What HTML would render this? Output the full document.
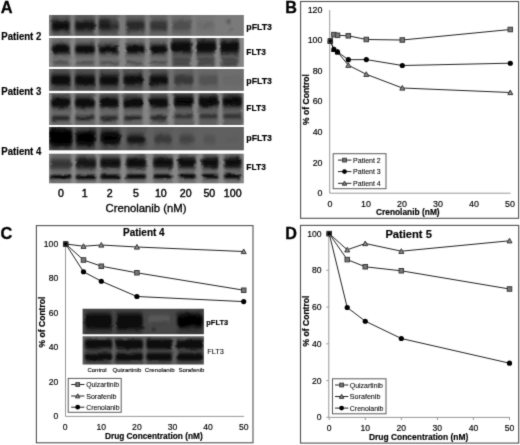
<!DOCTYPE html>
<html lang="en"><head><meta charset="utf-8"><title>Figure</title>
<style>
html,body{margin:0;padding:0;background:#fff;}
body{width:520px;height:445px;overflow:hidden;}
svg{display:block;font-family:"Liberation Sans",sans-serif;}
</style></head><body>
<svg width="520" height="445" viewBox="0 0 520 445">
<defs>
<filter id="a0" x="-30%" y="-60%" width="160%" height="220%"><feGaussianBlur stdDeviation="0.8 0.8"/></filter>
<filter id="a1" x="-30%" y="-60%" width="160%" height="220%"><feGaussianBlur stdDeviation="1.0 1.4"/></filter>
<filter id="a2" x="-30%" y="-60%" width="160%" height="220%"><feGaussianBlur stdDeviation="1.2 2.2"/></filter>
<filter id="wob" x="0" y="0" width="100%" height="100%" filterUnits="objectBoundingBox"><feTurbulence type="fractalNoise" baseFrequency="0.09 0.12" numOctaves="2" seed="7" result="n"/><feDisplacementMap in="SourceGraphic" in2="n" scale="3.2" xChannelSelector="R" yChannelSelector="G"/></filter>
<filter id="soft" x="0" y="0" width="520" height="445" filterUnits="userSpaceOnUse" color-interpolation-filters="sRGB"><feConvolveMatrix order="3" kernelMatrix="1 6 1 6 36 6 1 6 1" divisor="64" edgeMode="duplicate" preserveAlpha="false"/></filter>
<filter id="b1" x="-30%" y="-60%" width="160%" height="220%"><feGaussianBlur stdDeviation="0.9"/></filter>
<filter id="b15" x="-30%" y="-60%" width="160%" height="220%"><feGaussianBlur stdDeviation="1.4"/></filter>
<filter id="b2" x="-30%" y="-60%" width="160%" height="220%"><feGaussianBlur stdDeviation="1.9"/></filter>
<filter id="b25" x="-30%" y="-60%" width="160%" height="220%"><feGaussianBlur stdDeviation="2.4"/></filter>
</defs>
<rect width="520" height="445" fill="#fff"/>
<g filter="url(#soft)">

<g id="panelA">
<clipPath id="cs0"><rect x="49.0" y="15.0" width="194.7" height="20.8"/></clipPath>
<clipPath id="cs1"><rect x="49.0" y="38.1" width="194.7" height="28.7"/></clipPath>
<clipPath id="cs2"><rect x="49.0" y="69.0" width="194.7" height="21.7"/></clipPath>
<clipPath id="cs3"><rect x="49.0" y="93.3" width="194.7" height="31.7"/></clipPath>
<clipPath id="cs4"><rect x="49.0" y="126.9" width="194.7" height="23.4"/></clipPath>
<clipPath id="cs5"><rect x="49.0" y="153.7" width="194.7" height="29.6"/></clipPath>
<g clip-path="url(#cs0)">
<rect x="49.0" y="15.0" width="194.7" height="20.8" fill="#7a7a7a"/>
<g filter="url(#wob)">
<rect x="43.0" y="9.0" width="206.7" height="32.8" fill="#7a7a7a"/>
<rect x="51.8" y="11.0" width="18.0" height="28.8" fill="#000" fill-opacity="0.22" filter="url(#a0)"/>
<rect x="75.0" y="11.0" width="20.0" height="28.8" fill="#000" fill-opacity="0.22" filter="url(#a0)"/>
<rect x="98.8" y="11.0" width="20.0" height="28.8" fill="#000" fill-opacity="0.20" filter="url(#a0)"/>
<rect x="126.0" y="11.0" width="18.8" height="28.8" fill="#000" fill-opacity="0.18" filter="url(#a0)"/>
<rect x="150.0" y="11.0" width="17.5" height="28.8" fill="#000" fill-opacity="0.15" filter="url(#a0)"/>
<rect x="172.0" y="11.0" width="19.2" height="28.8" fill="#000" fill-opacity="0.10" filter="url(#a0)"/>
<rect x="196.5" y="11.0" width="18.5" height="28.8" fill="#000" fill-opacity="0.03" filter="url(#a0)"/>
<rect x="51.8" y="18.8" width="18.0" height="14.0" rx="2.5" fill="#000" fill-opacity="0.45" filter="url(#a2)"/>
<rect x="52.3" y="21.6" width="17.0" height="8.5" rx="2.5" fill="#000" fill-opacity="0.72" filter="url(#a1)"/>
<rect x="75.0" y="18.8" width="20.0" height="14.0" rx="2.5" fill="#000" fill-opacity="0.39" filter="url(#a2)"/>
<rect x="75.5" y="21.6" width="19.0" height="8.5" rx="2.5" fill="#000" fill-opacity="0.62" filter="url(#a1)"/>
<rect x="98.8" y="18.8" width="20.0" height="14.0" rx="2.5" fill="#000" fill-opacity="0.33" filter="url(#a2)"/>
<rect x="98.8" y="20.8" width="11.0" height="9.0" rx="2.5" fill="#000" fill-opacity="0.53" filter="url(#a1)"/>
<rect x="107.8" y="24.3" width="11.0" height="4.0" rx="2.5" fill="#000" fill-opacity="0.35" filter="url(#a1)"/>
<rect x="126.0" y="18.8" width="18.8" height="14.0" rx="2.5" fill="#000" fill-opacity="0.27" filter="url(#a2)"/>
<rect x="126.5" y="21.6" width="17.8" height="8.5" rx="2.5" fill="#000" fill-opacity="0.43" filter="url(#a1)"/>
<rect x="150.0" y="18.8" width="17.5" height="14.0" rx="2.5" fill="#000" fill-opacity="0.21" filter="url(#a2)"/>
<rect x="150.5" y="21.6" width="16.5" height="8.5" rx="2.5" fill="#000" fill-opacity="0.34" filter="url(#a1)"/>
<rect x="172.0" y="18.8" width="19.2" height="14.0" rx="2.5" fill="#000" fill-opacity="0.12" filter="url(#a2)"/>
<rect x="172.5" y="21.6" width="18.2" height="8.5" rx="2.5" fill="#000" fill-opacity="0.19" filter="url(#a1)"/>
<rect x="196.5" y="18.8" width="18.5" height="14.0" rx="2.5" fill="#000" fill-opacity="0.03" filter="url(#a2)"/>
<rect x="197.0" y="21.6" width="17.5" height="8.5" rx="2.5" fill="#000" fill-opacity="0.04" filter="url(#a1)"/>
<circle cx="228.5" cy="22" r="2.2" fill="#000" fill-opacity="0.3" filter="url(#a1)"/>
<circle cx="230.5" cy="29.5" r="1.3" fill="#000" fill-opacity="0.25" filter="url(#a0)"/>
<path d="M203,29 l9,-7" stroke="#000" stroke-opacity="0.25" stroke-width="1" filter="url(#a0)"/>
</g></g>
<g clip-path="url(#cs1)">
<rect x="49.0" y="38.1" width="194.7" height="28.7" fill="#868686"/>
<g filter="url(#wob)">
<rect x="43.0" y="32.1" width="206.7" height="40.7" fill="#868686"/>
<rect x="51.8" y="34.1" width="18.0" height="36.7" fill="#000" fill-opacity="0.16" filter="url(#a0)"/>
<rect x="75.0" y="34.1" width="20.0" height="36.7" fill="#000" fill-opacity="0.16" filter="url(#a0)"/>
<rect x="98.8" y="34.1" width="20.0" height="36.7" fill="#000" fill-opacity="0.16" filter="url(#a0)"/>
<rect x="126.0" y="34.1" width="18.8" height="36.7" fill="#000" fill-opacity="0.16" filter="url(#a0)"/>
<rect x="150.0" y="34.1" width="17.5" height="36.7" fill="#000" fill-opacity="0.18" filter="url(#a0)"/>
<rect x="172.0" y="34.1" width="19.2" height="36.7" fill="#000" fill-opacity="0.32" filter="url(#a0)"/>
<rect x="196.5" y="34.1" width="18.5" height="36.7" fill="#000" fill-opacity="0.32" filter="url(#a0)"/>
<rect x="220.4" y="34.1" width="18.6" height="36.7" fill="#000" fill-opacity="0.32" filter="url(#a0)"/>
<rect x="51.8" y="43.0" width="18.0" height="12.0" rx="2.5" fill="#000" fill-opacity="0.42" filter="url(#a2)"/>
<rect x="52.3" y="45.8" width="17.0" height="7.0" rx="2.5" fill="#000" fill-opacity="0.85" filter="url(#a1)"/>
<rect x="52.8" y="61.2" width="16.0" height="3.0" rx="2.5" fill="#000" fill-opacity="0.30" filter="url(#a0)"/>
<rect x="75.0" y="43.0" width="20.0" height="12.0" rx="2.5" fill="#000" fill-opacity="0.42" filter="url(#a2)"/>
<rect x="75.5" y="45.8" width="19.0" height="7.0" rx="2.5" fill="#000" fill-opacity="0.85" filter="url(#a1)"/>
<rect x="76.0" y="61.2" width="18.0" height="3.0" rx="2.5" fill="#000" fill-opacity="0.30" filter="url(#a0)"/>
<rect x="98.8" y="43.0" width="20.0" height="12.0" rx="2.5" fill="#000" fill-opacity="0.42" filter="url(#a2)"/>
<rect x="99.3" y="45.8" width="19.0" height="7.0" rx="2.5" fill="#000" fill-opacity="0.85" filter="url(#a1)"/>
<rect x="99.8" y="61.2" width="18.0" height="3.0" rx="2.5" fill="#000" fill-opacity="0.30" filter="url(#a0)"/>
<rect x="126.0" y="43.0" width="18.8" height="12.0" rx="2.5" fill="#000" fill-opacity="0.42" filter="url(#a2)"/>
<rect x="126.5" y="45.8" width="17.8" height="7.0" rx="2.5" fill="#000" fill-opacity="0.85" filter="url(#a1)"/>
<rect x="127.0" y="61.2" width="16.8" height="3.0" rx="2.5" fill="#000" fill-opacity="0.30" filter="url(#a0)"/>
<rect x="150.0" y="43.0" width="17.5" height="12.0" rx="2.5" fill="#000" fill-opacity="0.42" filter="url(#a2)"/>
<rect x="150.5" y="45.8" width="16.5" height="7.0" rx="2.5" fill="#000" fill-opacity="0.85" filter="url(#a1)"/>
<rect x="151.0" y="61.2" width="15.5" height="3.0" rx="2.5" fill="#000" fill-opacity="0.30" filter="url(#a0)"/>
<rect x="172.0" y="39.0" width="19.2" height="15.0" rx="2.5" fill="#000" fill-opacity="0.45" filter="url(#a2)"/>
<rect x="172.5" y="42.2" width="18.2" height="9.5" rx="2.5" fill="#000" fill-opacity="0.80" filter="url(#a1)"/>
<rect x="173.0" y="58.5" width="17.2" height="2.5" rx="2.5" fill="#000" fill-opacity="0.30" filter="url(#a0)"/>
<rect x="173.0" y="62.2" width="17.2" height="2.5" rx="2.5" fill="#000" fill-opacity="0.30" filter="url(#a0)"/>
<rect x="196.5" y="39.0" width="18.5" height="15.0" rx="2.5" fill="#000" fill-opacity="0.45" filter="url(#a2)"/>
<rect x="197.0" y="42.2" width="17.5" height="9.5" rx="2.5" fill="#000" fill-opacity="0.80" filter="url(#a1)"/>
<rect x="197.5" y="58.5" width="16.5" height="2.5" rx="2.5" fill="#000" fill-opacity="0.30" filter="url(#a0)"/>
<rect x="197.5" y="62.2" width="16.5" height="2.5" rx="2.5" fill="#000" fill-opacity="0.30" filter="url(#a0)"/>
<rect x="220.4" y="39.0" width="18.6" height="15.0" rx="2.5" fill="#000" fill-opacity="0.45" filter="url(#a2)"/>
<rect x="220.9" y="42.2" width="17.6" height="9.5" rx="2.5" fill="#000" fill-opacity="0.80" filter="url(#a1)"/>
<rect x="221.4" y="58.5" width="16.6" height="2.5" rx="2.5" fill="#000" fill-opacity="0.30" filter="url(#a0)"/>
<rect x="221.4" y="62.2" width="16.6" height="2.5" rx="2.5" fill="#000" fill-opacity="0.30" filter="url(#a0)"/>
</g></g>
<g clip-path="url(#cs2)">
<rect x="49.0" y="69.0" width="194.7" height="21.7" fill="#6e6e6e"/>
<g filter="url(#wob)">
<rect x="43.0" y="63.0" width="206.7" height="33.7" fill="#6e6e6e"/>
<rect x="51.2" y="65.0" width="19.2" height="29.7" fill="#000" fill-opacity="0.24" filter="url(#a0)"/>
<rect x="75.0" y="65.0" width="20.0" height="29.7" fill="#000" fill-opacity="0.24" filter="url(#a0)"/>
<rect x="99.6" y="65.0" width="18.9" height="29.7" fill="#000" fill-opacity="0.24" filter="url(#a0)"/>
<rect x="123.5" y="65.0" width="19.2" height="29.7" fill="#000" fill-opacity="0.24" filter="url(#a0)"/>
<rect x="149.6" y="65.0" width="18.4" height="29.7" fill="#000" fill-opacity="0.24" filter="url(#a0)"/>
<rect x="174.0" y="65.0" width="19.5" height="29.7" fill="#000" fill-opacity="0.12" filter="url(#a0)"/>
<rect x="198.8" y="65.0" width="19.2" height="29.7" fill="#000" fill-opacity="0.06" filter="url(#a0)"/>
<rect x="51.2" y="73.5" width="19.2" height="13.0" rx="2.5" fill="#000" fill-opacity="0.51" filter="url(#a2)"/>
<rect x="51.7" y="76.2" width="18.2" height="8.0" rx="2.5" fill="#000" fill-opacity="0.78" filter="url(#a1)"/>
<rect x="75.0" y="73.5" width="20.0" height="13.0" rx="2.5" fill="#000" fill-opacity="0.48" filter="url(#a2)"/>
<rect x="75.5" y="76.2" width="19.0" height="8.0" rx="2.5" fill="#000" fill-opacity="0.75" filter="url(#a1)"/>
<rect x="99.6" y="73.5" width="18.9" height="13.0" rx="2.5" fill="#000" fill-opacity="0.47" filter="url(#a2)"/>
<rect x="100.1" y="76.2" width="17.9" height="8.0" rx="2.5" fill="#000" fill-opacity="0.72" filter="url(#a1)"/>
<rect x="123.5" y="73.5" width="19.2" height="13.0" rx="2.5" fill="#000" fill-opacity="0.45" filter="url(#a2)"/>
<rect x="124.0" y="76.2" width="18.2" height="8.0" rx="2.5" fill="#000" fill-opacity="0.70" filter="url(#a1)"/>
<rect x="149.6" y="73.5" width="18.4" height="13.0" rx="2.5" fill="#000" fill-opacity="0.45" filter="url(#a2)"/>
<rect x="150.1" y="76.2" width="17.4" height="8.0" rx="2.5" fill="#000" fill-opacity="0.70" filter="url(#a1)"/>
<rect x="174.0" y="73.5" width="19.5" height="13.0" rx="2.5" fill="#000" fill-opacity="0.19" filter="url(#a2)"/>
<rect x="174.5" y="76.2" width="18.5" height="8.0" rx="2.5" fill="#000" fill-opacity="0.29" filter="url(#a1)"/>
<rect x="198.8" y="73.5" width="19.2" height="13.0" rx="2.5" fill="#000" fill-opacity="0.09" filter="url(#a2)"/>
<rect x="199.3" y="76.2" width="18.2" height="8.0" rx="2.5" fill="#000" fill-opacity="0.14" filter="url(#a1)"/>
<rect x="222.7" y="73.5" width="19.3" height="13.0" rx="2.5" fill="#000" fill-opacity="0.02" filter="url(#a2)"/>
<rect x="223.2" y="76.2" width="18.3" height="8.0" rx="2.5" fill="#000" fill-opacity="0.03" filter="url(#a1)"/>
</g></g>
<g clip-path="url(#cs3)">
<rect x="49.0" y="93.3" width="194.7" height="31.7" fill="#848484"/>
<g filter="url(#wob)">
<rect x="43.0" y="87.3" width="206.7" height="43.7" fill="#848484"/>
<rect x="51.2" y="89.3" width="19.2" height="39.7" fill="#000" fill-opacity="0.22" filter="url(#a0)"/>
<rect x="75.0" y="89.3" width="20.0" height="39.7" fill="#000" fill-opacity="0.22" filter="url(#a0)"/>
<rect x="99.6" y="89.3" width="18.9" height="39.7" fill="#000" fill-opacity="0.22" filter="url(#a0)"/>
<rect x="123.5" y="89.3" width="19.2" height="39.7" fill="#000" fill-opacity="0.22" filter="url(#a0)"/>
<rect x="149.6" y="89.3" width="18.4" height="39.7" fill="#000" fill-opacity="0.22" filter="url(#a0)"/>
<rect x="174.0" y="89.3" width="19.5" height="39.7" fill="#000" fill-opacity="0.28" filter="url(#a0)"/>
<rect x="198.8" y="89.3" width="19.2" height="39.7" fill="#000" fill-opacity="0.28" filter="url(#a0)"/>
<rect x="222.7" y="89.3" width="19.3" height="39.7" fill="#000" fill-opacity="0.28" filter="url(#a0)"/>
<rect x="51.2" y="94.8" width="19.2" height="14.0" rx="2.5" fill="#000" fill-opacity="0.45" filter="url(#a2)"/>
<rect x="51.7" y="99.0" width="18.2" height="7.5" rx="2.5" fill="#000" fill-opacity="0.88" filter="url(#a1)"/>
<rect x="51.7" y="116.1" width="18.2" height="4.2" rx="2.5" fill="#000" fill-opacity="0.68" filter="url(#a1)"/>
<rect x="75.0" y="94.8" width="20.0" height="14.0" rx="2.5" fill="#000" fill-opacity="0.45" filter="url(#a2)"/>
<rect x="75.5" y="99.0" width="19.0" height="7.5" rx="2.5" fill="#000" fill-opacity="0.88" filter="url(#a1)"/>
<rect x="75.5" y="116.1" width="19.0" height="4.2" rx="2.5" fill="#000" fill-opacity="0.68" filter="url(#a1)"/>
<rect x="99.6" y="94.8" width="18.9" height="14.0" rx="2.5" fill="#000" fill-opacity="0.45" filter="url(#a2)"/>
<rect x="100.1" y="99.0" width="17.9" height="7.5" rx="2.5" fill="#000" fill-opacity="0.88" filter="url(#a1)"/>
<rect x="100.1" y="116.1" width="17.9" height="4.2" rx="2.5" fill="#000" fill-opacity="0.68" filter="url(#a1)"/>
<rect x="123.5" y="94.8" width="19.2" height="14.0" rx="2.5" fill="#000" fill-opacity="0.45" filter="url(#a2)"/>
<rect x="124.0" y="99.0" width="18.2" height="7.5" rx="2.5" fill="#000" fill-opacity="0.88" filter="url(#a1)"/>
<rect x="124.0" y="116.1" width="18.2" height="4.2" rx="2.5" fill="#000" fill-opacity="0.68" filter="url(#a1)"/>
<rect x="149.6" y="94.8" width="18.4" height="14.0" rx="2.5" fill="#000" fill-opacity="0.45" filter="url(#a2)"/>
<rect x="150.1" y="99.0" width="17.4" height="7.5" rx="2.5" fill="#000" fill-opacity="0.88" filter="url(#a1)"/>
<rect x="150.1" y="116.1" width="17.4" height="4.2" rx="2.5" fill="#000" fill-opacity="0.68" filter="url(#a1)"/>
<rect x="174.0" y="93.0" width="19.5" height="15.0" rx="2.5" fill="#000" fill-opacity="0.45" filter="url(#a2)"/>
<rect x="174.5" y="97.2" width="18.5" height="8.5" rx="2.5" fill="#000" fill-opacity="0.88" filter="url(#a1)"/>
<rect x="174.5" y="114.5" width="18.5" height="3.5" rx="2.5" fill="#000" fill-opacity="0.60" filter="url(#a1)"/>
<rect x="198.8" y="93.0" width="19.2" height="15.0" rx="2.5" fill="#000" fill-opacity="0.45" filter="url(#a2)"/>
<rect x="199.3" y="97.2" width="18.2" height="8.5" rx="2.5" fill="#000" fill-opacity="0.88" filter="url(#a1)"/>
<rect x="199.3" y="114.5" width="18.2" height="3.5" rx="2.5" fill="#000" fill-opacity="0.60" filter="url(#a1)"/>
<rect x="222.7" y="93.0" width="19.3" height="15.0" rx="2.5" fill="#000" fill-opacity="0.45" filter="url(#a2)"/>
<rect x="223.2" y="97.2" width="18.3" height="8.5" rx="2.5" fill="#000" fill-opacity="0.88" filter="url(#a1)"/>
<rect x="223.2" y="114.5" width="18.3" height="3.5" rx="2.5" fill="#000" fill-opacity="0.60" filter="url(#a1)"/>
</g></g>
<g clip-path="url(#cs4)">
<rect x="49.0" y="126.9" width="194.7" height="23.4" fill="#606060"/>
<g filter="url(#wob)">
<rect x="43.0" y="120.9" width="206.7" height="35.4" fill="#606060"/>
<rect x="50.5" y="122.9" width="20.5" height="31.4" fill="#000" fill-opacity="0.20" filter="url(#a0)"/>
<rect x="76.0" y="122.9" width="19.8" height="31.4" fill="#000" fill-opacity="0.18" filter="url(#a0)"/>
<rect x="100.6" y="122.9" width="19.6" height="31.4" fill="#000" fill-opacity="0.16" filter="url(#a0)"/>
<rect x="126.5" y="122.9" width="19.3" height="31.4" fill="#000" fill-opacity="0.10" filter="url(#a0)"/>
<rect x="153.5" y="122.9" width="19.2" height="31.4" fill="#000" fill-opacity="0.05" filter="url(#a0)"/>
<rect x="178.5" y="122.9" width="17.0" height="31.4" fill="#000" fill-opacity="0.03" filter="url(#a0)"/>
<rect x="49.0" y="127.6" width="23.5" height="20.0" rx="5" fill="#000" fill-opacity="0.75" filter="url(#a2)"/>
<rect x="50.0" y="130.6" width="21.5" height="14.0" rx="4" fill="#000" fill-opacity="0.90" filter="url(#a1)"/>
<rect x="75.7" y="129.2" width="20.4" height="17.5" rx="5" fill="#000" fill-opacity="0.68" filter="url(#a2)"/>
<rect x="76.7" y="132.2" width="18.4" height="11.5" rx="4" fill="#000" fill-opacity="0.81" filter="url(#a1)"/>
<rect x="100.4" y="130.0" width="20.0" height="16.0" rx="5" fill="#000" fill-opacity="0.65" filter="url(#a2)"/>
<rect x="101.4" y="133.0" width="18.0" height="10.0" rx="4" fill="#000" fill-opacity="0.77" filter="url(#a1)"/>
<rect x="126.5" y="133.8" width="19.3" height="11.5" rx="5" fill="#000" fill-opacity="0.49" filter="url(#a2)"/>
<rect x="127.5" y="136.8" width="17.3" height="5.5" rx="4" fill="#000" fill-opacity="0.59" filter="url(#a1)"/>
<rect x="154.0" y="134.8" width="18.2" height="9.0" rx="5" fill="#000" fill-opacity="0.38" filter="url(#a2)"/>
<rect x="179.0" y="134.8" width="16.0" height="9.0" rx="5" fill="#000" fill-opacity="0.29" filter="url(#a2)"/>
<rect x="203.0" y="135.3" width="14.0" height="8.0" rx="5" fill="#000" fill-opacity="0.15" filter="url(#a2)"/>
<rect x="225.2" y="135.8" width="15.0" height="7.0" rx="5" fill="#000" fill-opacity="0.04" filter="url(#a2)"/>
</g></g>
<g clip-path="url(#cs5)">
<rect x="49.0" y="153.7" width="194.7" height="29.6" fill="#888888"/>
<g filter="url(#wob)">
<rect x="43.0" y="147.7" width="206.7" height="41.6" fill="#888888"/>
<rect x="50.5" y="149.7" width="20.5" height="37.6" fill="#000" fill-opacity="0.18" filter="url(#a0)"/>
<rect x="76.0" y="149.7" width="19.8" height="37.6" fill="#000" fill-opacity="0.18" filter="url(#a0)"/>
<rect x="100.6" y="149.7" width="19.6" height="37.6" fill="#000" fill-opacity="0.18" filter="url(#a0)"/>
<rect x="126.5" y="149.7" width="19.3" height="37.6" fill="#000" fill-opacity="0.18" filter="url(#a0)"/>
<rect x="153.5" y="149.7" width="19.2" height="37.6" fill="#000" fill-opacity="0.18" filter="url(#a0)"/>
<rect x="178.5" y="149.7" width="17.0" height="37.6" fill="#000" fill-opacity="0.18" filter="url(#a0)"/>
<rect x="202.0" y="149.7" width="16.0" height="37.6" fill="#000" fill-opacity="0.18" filter="url(#a0)"/>
<rect x="224.2" y="149.7" width="17.0" height="37.6" fill="#000" fill-opacity="0.18" filter="url(#a0)"/>
<rect x="50.2" y="157.2" width="21.1" height="13.0" rx="2.5" fill="#000" fill-opacity="0.25" filter="url(#a2)"/>
<rect x="50.5" y="160.0" width="20.5" height="8.0" rx="2.5" fill="#000" fill-opacity="0.36" filter="url(#a1)"/>
<rect x="50.2" y="175.1" width="21.1" height="4.4" rx="2" fill="#000" fill-opacity="0.92" filter="url(#a0)"/>
<rect x="75.7" y="156.6" width="20.4" height="13.0" rx="2.5" fill="#000" fill-opacity="0.45" filter="url(#a2)"/>
<rect x="76.0" y="159.4" width="19.8" height="8.0" rx="2.5" fill="#000" fill-opacity="0.64" filter="url(#a1)"/>
<rect x="75.7" y="174.8" width="20.4" height="4.4" rx="2" fill="#000" fill-opacity="0.92" filter="url(#a0)"/>
<rect x="100.3" y="156.2" width="20.2" height="13.0" rx="2.5" fill="#000" fill-opacity="0.49" filter="url(#a2)"/>
<rect x="100.6" y="159.0" width="19.6" height="8.0" rx="2.5" fill="#000" fill-opacity="0.70" filter="url(#a1)"/>
<rect x="100.3" y="174.5" width="20.2" height="4.4" rx="2" fill="#000" fill-opacity="0.92" filter="url(#a0)"/>
<rect x="126.2" y="156.1" width="19.9" height="13.0" rx="2.5" fill="#000" fill-opacity="0.51" filter="url(#a2)"/>
<rect x="126.5" y="158.9" width="19.3" height="8.0" rx="2.5" fill="#000" fill-opacity="0.72" filter="url(#a1)"/>
<rect x="126.2" y="174.3" width="19.9" height="4.4" rx="2" fill="#000" fill-opacity="0.92" filter="url(#a0)"/>
<rect x="153.2" y="156.0" width="19.8" height="13.0" rx="2.5" fill="#000" fill-opacity="0.51" filter="url(#a2)"/>
<rect x="153.5" y="158.8" width="19.2" height="8.0" rx="2.5" fill="#000" fill-opacity="0.72" filter="url(#a1)"/>
<rect x="153.2" y="174.2" width="19.8" height="4.4" rx="2" fill="#000" fill-opacity="0.92" filter="url(#a0)"/>
<rect x="178.2" y="155.9" width="17.6" height="13.0" rx="2.5" fill="#000" fill-opacity="0.53" filter="url(#a2)"/>
<rect x="178.5" y="158.7" width="17.0" height="8.0" rx="2.5" fill="#000" fill-opacity="0.75" filter="url(#a1)"/>
<rect x="178.2" y="174.1" width="17.6" height="4.4" rx="2" fill="#000" fill-opacity="0.92" filter="url(#a0)"/>
<rect x="201.7" y="155.9" width="16.6" height="13.0" rx="2.5" fill="#000" fill-opacity="0.53" filter="url(#a2)"/>
<rect x="202.0" y="158.7" width="16.0" height="8.0" rx="2.5" fill="#000" fill-opacity="0.75" filter="url(#a1)"/>
<rect x="201.7" y="174.0" width="16.6" height="4.4" rx="2" fill="#000" fill-opacity="0.92" filter="url(#a0)"/>
<rect x="223.9" y="155.9" width="17.6" height="13.0" rx="2.5" fill="#000" fill-opacity="0.53" filter="url(#a2)"/>
<rect x="224.2" y="158.7" width="17.0" height="8.0" rx="2.5" fill="#000" fill-opacity="0.75" filter="url(#a1)"/>
<rect x="223.9" y="174.0" width="17.6" height="4.4" rx="2" fill="#000" fill-opacity="0.92" filter="url(#a0)"/>
</g></g>
<text x="0.8" y="13.3" font-size="16.4" font-weight="bold" text-anchor="start" fill="#000" stroke="#000" stroke-width="0.3">A</text>
<text x="1.3" y="40.4" font-size="10.3" font-weight="bold" text-anchor="start" fill="#000" textLength="40" lengthAdjust="spacingAndGlyphs" stroke="#000" stroke-width="0.16">Patient 2</text>
<text x="1.3" y="95.3" font-size="10.3" font-weight="bold" text-anchor="start" fill="#000" textLength="40" lengthAdjust="spacingAndGlyphs" stroke="#000" stroke-width="0.16">Patient 3</text>
<text x="1.3" y="155.3" font-size="10.3" font-weight="bold" text-anchor="start" fill="#000" textLength="40" lengthAdjust="spacingAndGlyphs" stroke="#000" stroke-width="0.16">Patient 4</text>
<text x="246.3" y="29.6" font-size="9.6" font-weight="bold" text-anchor="start" fill="#000" textLength="25.7" lengthAdjust="spacingAndGlyphs" stroke="#000" stroke-width="0.16">pFLT3</text>
<text x="246.3" y="55.2" font-size="9.6" font-weight="bold" text-anchor="start" fill="#000" textLength="19.6" lengthAdjust="spacingAndGlyphs" stroke="#000" stroke-width="0.16">FLT3</text>
<text x="246.3" y="83.7" font-size="9.6" font-weight="bold" text-anchor="start" fill="#000" textLength="25.7" lengthAdjust="spacingAndGlyphs" stroke="#000" stroke-width="0.16">pFLT3</text>
<text x="246.3" y="111.3" font-size="9.6" font-weight="bold" text-anchor="start" fill="#000" textLength="19.6" lengthAdjust="spacingAndGlyphs" stroke="#000" stroke-width="0.16">FLT3</text>
<text x="246.3" y="141.3" font-size="9.6" font-weight="bold" text-anchor="start" fill="#000" textLength="25.7" lengthAdjust="spacingAndGlyphs" stroke="#000" stroke-width="0.16">pFLT3</text>
<text x="246.3" y="169.6" font-size="9.6" font-weight="bold" text-anchor="start" fill="#000" textLength="19.6" lengthAdjust="spacingAndGlyphs" stroke="#000" stroke-width="0.16">FLT3</text>
<text x="61" y="197.4" font-size="10.6" font-weight="normal" text-anchor="middle" fill="#000" stroke="#000" stroke-width="0.4">0</text>
<text x="84.8" y="197.4" font-size="10.6" font-weight="normal" text-anchor="middle" fill="#000" stroke="#000" stroke-width="0.4">1</text>
<text x="109.6" y="197.4" font-size="10.6" font-weight="normal" text-anchor="middle" fill="#000" stroke="#000" stroke-width="0.4">2</text>
<text x="135.9" y="197.4" font-size="10.6" font-weight="normal" text-anchor="middle" fill="#000" stroke="#000" stroke-width="0.4">5</text>
<text x="160.8" y="197.4" font-size="10.6" font-weight="normal" text-anchor="middle" fill="#000" stroke="#000" stroke-width="0.4">10</text>
<text x="185.7" y="197.4" font-size="10.6" font-weight="normal" text-anchor="middle" fill="#000" stroke="#000" stroke-width="0.4">20</text>
<text x="209.3" y="197.4" font-size="10.6" font-weight="normal" text-anchor="middle" fill="#000" stroke="#000" stroke-width="0.4">50</text>
<text x="232.7" y="197.4" font-size="10.6" font-weight="normal" text-anchor="middle" fill="#000" stroke="#000" stroke-width="0.4">100</text>
<text x="146" y="211.6" font-size="11.3" font-weight="normal" text-anchor="middle" fill="#000" stroke="#000" stroke-width="0.32">Crenolanib (nM)</text>
</g>
<g id="panelB">
<rect x="300.6" y="1.5" width="218.0" height="216.8" fill="#fff" stroke="#505050" stroke-width="1.1"/>
<text x="285.3" y="12.8" font-size="16.2" font-weight="bold" text-anchor="start" fill="#000" stroke="#000" stroke-width="0.3">B</text>
<path d="M329.7,10 V193.2 H510.5" fill="none" stroke="#989898" stroke-width="1"/>
<text x="322.5" y="196.2" font-size="8.9" font-weight="normal" text-anchor="end" fill="#000" stroke="#000" stroke-width="0.16">0</text>
<text x="322.5" y="165.6" font-size="8.9" font-weight="normal" text-anchor="end" fill="#000" stroke="#000" stroke-width="0.16">20</text>
<text x="322.5" y="135.0" font-size="8.9" font-weight="normal" text-anchor="end" fill="#000" stroke="#000" stroke-width="0.16">40</text>
<text x="322.5" y="104.4" font-size="8.9" font-weight="normal" text-anchor="end" fill="#000" stroke="#000" stroke-width="0.16">60</text>
<text x="322.5" y="73.8" font-size="8.9" font-weight="normal" text-anchor="end" fill="#000" stroke="#000" stroke-width="0.16">80</text>
<text x="322.5" y="43.2" font-size="8.9" font-weight="normal" text-anchor="end" fill="#000" stroke="#000" stroke-width="0.16">100</text>
<text x="322.5" y="12.600000000000005" font-size="8.9" font-weight="normal" text-anchor="end" fill="#000" stroke="#000" stroke-width="0.16">120</text>
<text x="330.0" y="206.7" font-size="8.9" font-weight="normal" text-anchor="middle" fill="#000" stroke="#000" stroke-width="0.16">0</text>
<text x="366.0" y="206.7" font-size="8.9" font-weight="normal" text-anchor="middle" fill="#000" stroke="#000" stroke-width="0.16">10</text>
<text x="402.0" y="206.7" font-size="8.9" font-weight="normal" text-anchor="middle" fill="#000" stroke="#000" stroke-width="0.16">20</text>
<text x="438.0" y="206.7" font-size="8.9" font-weight="normal" text-anchor="middle" fill="#000" stroke="#000" stroke-width="0.16">30</text>
<text x="474.0" y="206.7" font-size="8.9" font-weight="normal" text-anchor="middle" fill="#000" stroke="#000" stroke-width="0.16">40</text>
<text x="510.0" y="206.7" font-size="8.9" font-weight="normal" text-anchor="middle" fill="#000" stroke="#000" stroke-width="0.16">50</text>
<text x="407.8" y="214.7" font-size="8.4" font-weight="bold" text-anchor="middle" fill="#000" stroke="#000" stroke-width="0.16">Crenolanib (nM)</text>
<text transform="translate(308.7,99.5) rotate(-90)" font-size="8.55" font-weight="bold" text-anchor="middle" fill="#000" stroke="#000" stroke-width="0.2">% of Control</text>
<polyline fill="none" stroke="#222" stroke-width="1" points="330.3,41.0 333.9,34.6 337.5,35.3 348.3,35.8 366.3,39.5 402.3,40.0 510.3,29.5"/>
<rect x="328.05" y="38.75" width="4.5" height="4.5" fill="#777" stroke="#3a3a3a" stroke-width="1"/>
<rect x="331.65" y="32.35" width="4.5" height="4.5" fill="#777" stroke="#3a3a3a" stroke-width="1"/>
<rect x="335.25" y="33.05" width="4.5" height="4.5" fill="#777" stroke="#3a3a3a" stroke-width="1"/>
<rect x="346.05" y="33.55" width="4.5" height="4.5" fill="#777" stroke="#3a3a3a" stroke-width="1"/>
<rect x="364.05" y="37.25" width="4.5" height="4.5" fill="#777" stroke="#3a3a3a" stroke-width="1"/>
<rect x="400.05" y="37.75" width="4.5" height="4.5" fill="#777" stroke="#3a3a3a" stroke-width="1"/>
<rect x="508.05" y="27.25" width="4.5" height="4.5" fill="#777" stroke="#3a3a3a" stroke-width="1"/>
<polyline fill="none" stroke="#222" stroke-width="1" points="330.3,41.0 333.9,49.4 337.5,51.9 348.3,65.2 366.3,74.3 402.3,88.0 510.3,92.5"/>
<path d="M330.30,38.50 L332.80,43.12 L327.80,43.12 Z" fill="#909090" stroke="#333" stroke-width="1"/>
<path d="M333.90,46.90 L336.40,51.52 L331.40,51.52 Z" fill="#909090" stroke="#333" stroke-width="1"/>
<path d="M337.50,49.40 L340.00,54.02 L335.00,54.02 Z" fill="#909090" stroke="#333" stroke-width="1"/>
<path d="M348.30,62.70 L350.80,67.33 L345.80,67.33 Z" fill="#909090" stroke="#333" stroke-width="1"/>
<path d="M366.30,71.80 L368.80,76.42 L363.80,76.42 Z" fill="#909090" stroke="#333" stroke-width="1"/>
<path d="M402.30,85.50 L404.80,90.12 L399.80,90.12 Z" fill="#909090" stroke="#333" stroke-width="1"/>
<path d="M510.30,90.00 L512.80,94.62 L507.80,94.62 Z" fill="#909090" stroke="#333" stroke-width="1"/>
<polyline fill="none" stroke="#222" stroke-width="1" points="330.3,41.0 333.9,49.4 337.5,51.9 348.3,59.7 366.3,59.6 402.3,65.5 510.3,63.2"/>
<circle cx="330.30" cy="41.00" r="2.6" fill="#000"/>
<circle cx="333.90" cy="49.40" r="2.6" fill="#000"/>
<circle cx="337.50" cy="51.90" r="2.6" fill="#000"/>
<circle cx="348.30" cy="59.70" r="2.6" fill="#000"/>
<circle cx="366.30" cy="59.60" r="2.6" fill="#000"/>
<circle cx="402.30" cy="65.50" r="2.6" fill="#000"/>
<circle cx="510.30" cy="63.25" r="2.6" fill="#000"/>
<rect x="328.50" y="39.20" width="3.6" height="3.6" fill="#000" stroke="#3a3a3a" stroke-width="1"/>
<rect x="333.2" y="153.7" width="52.8" height="35" fill="#fff" stroke="#5a5a5a" stroke-width="1"/>
<line x1="338" x2="351.4" y1="160.1" y2="160.1" stroke="#222" stroke-width="1"/>
<rect x="342.65" y="158.25" width="3.7" height="3.7" fill="#777" stroke="#3a3a3a" stroke-width="1"/>
<text x="353.1" y="162.79999999999998" font-size="7.6" font-weight="normal" text-anchor="start" fill="#000" textLength="27.6" lengthAdjust="spacingAndGlyphs" stroke="#000" stroke-width="0.08">Patient 2</text>
<line x1="338" x2="351.4" y1="171.6" y2="171.6" stroke="#222" stroke-width="1"/>
<circle cx="344.50" cy="171.60" r="2.4" fill="#000"/>
<text x="353.1" y="174.29999999999998" font-size="7.6" font-weight="normal" text-anchor="start" fill="#000" textLength="27.6" lengthAdjust="spacingAndGlyphs" stroke="#000" stroke-width="0.08">Patient 3</text>
<line x1="338" x2="351.4" y1="183.3" y2="183.3" stroke="#222" stroke-width="1"/>
<path d="M344.50,181.10 L346.70,185.17 L342.30,185.17 Z" fill="#909090" stroke="#333" stroke-width="1"/>
<text x="353.1" y="186.0" font-size="7.6" font-weight="normal" text-anchor="start" fill="#000" textLength="27.6" lengthAdjust="spacingAndGlyphs" stroke="#000" stroke-width="0.08">Patient 4</text>
</g>
<g id="panelC">
<rect x="36.4" y="225.6" width="216.6" height="217.20000000000002" fill="#fff" stroke="#505050" stroke-width="1.1"/>
<text x="0.4" y="238.7" font-size="16.4" font-weight="bold" text-anchor="start" fill="#000" stroke="#000" stroke-width="0.3">C</text>
<path d="M65.5,244 V416.4 H244" fill="none" stroke="#989898" stroke-width="1"/>
<text x="58.2" y="419.40000000000003" font-size="8.6" font-weight="normal" text-anchor="end" fill="#000" stroke="#000" stroke-width="0.16">0</text>
<text x="58.2" y="384.86" font-size="8.6" font-weight="normal" text-anchor="end" fill="#000" stroke="#000" stroke-width="0.16">20</text>
<text x="58.2" y="350.32000000000005" font-size="8.6" font-weight="normal" text-anchor="end" fill="#000" stroke="#000" stroke-width="0.16">40</text>
<text x="58.2" y="315.78000000000003" font-size="8.6" font-weight="normal" text-anchor="end" fill="#000" stroke="#000" stroke-width="0.16">60</text>
<text x="58.2" y="281.24" font-size="8.6" font-weight="normal" text-anchor="end" fill="#000" stroke="#000" stroke-width="0.16">80</text>
<text x="58.2" y="246.7" font-size="8.6" font-weight="normal" text-anchor="end" fill="#000" stroke="#000" stroke-width="0.16">100</text>
<text x="65.2" y="430.1" font-size="8.6" font-weight="normal" text-anchor="middle" fill="#000" stroke="#000" stroke-width="0.16">0</text>
<text x="101.30000000000001" y="430.1" font-size="8.6" font-weight="normal" text-anchor="middle" fill="#000" stroke="#000" stroke-width="0.16">10</text>
<text x="136.9" y="430.1" font-size="8.6" font-weight="normal" text-anchor="middle" fill="#000" stroke="#000" stroke-width="0.16">20</text>
<text x="172.5" y="430.1" font-size="8.6" font-weight="normal" text-anchor="middle" fill="#000" stroke="#000" stroke-width="0.16">30</text>
<text x="208.10000000000002" y="430.1" font-size="8.6" font-weight="normal" text-anchor="middle" fill="#000" stroke="#000" stroke-width="0.16">40</text>
<text x="243.7" y="430.1" font-size="8.6" font-weight="normal" text-anchor="middle" fill="#000" stroke="#000" stroke-width="0.16">50</text>
<text x="153.8" y="438.8" font-size="8.3" font-weight="bold" text-anchor="middle" fill="#000" stroke="#000" stroke-width="0.16">Drug Concentration (nM)</text>
<text transform="translate(45.3,322) rotate(-90)" font-size="8.55" font-weight="bold" text-anchor="middle" fill="#000" stroke="#000" stroke-width="0.2">% of Control</text>
<text x="123.1" y="236.4" font-size="10.2" font-weight="bold" text-anchor="start" fill="#000" textLength="41.5" lengthAdjust="spacingAndGlyphs" stroke="#000" stroke-width="0.16">Patient 4</text>
<polyline fill="none" stroke="#222" stroke-width="1" points="65.7,244.0 83.5,246.2 101.3,245.0 136.9,247.0 243.7,251.5"/>
<path d="M65.70,241.50 L68.20,246.12 L63.20,246.12 Z" fill="#909090" stroke="#333" stroke-width="1"/>
<path d="M83.50,243.75 L86.00,248.38 L81.00,248.38 Z" fill="#909090" stroke="#333" stroke-width="1"/>
<path d="M101.30,242.50 L103.80,247.12 L98.80,247.12 Z" fill="#909090" stroke="#333" stroke-width="1"/>
<path d="M136.90,244.50 L139.40,249.12 L134.40,249.12 Z" fill="#909090" stroke="#333" stroke-width="1"/>
<path d="M243.70,249.00 L246.20,253.62 L241.20,253.62 Z" fill="#909090" stroke="#333" stroke-width="1"/>
<polyline fill="none" stroke="#222" stroke-width="1" points="65.7,244.0 83.5,260.0 101.3,266.2 136.9,272.8 243.7,290.2"/>
<rect x="63.45" y="241.75" width="4.5" height="4.5" fill="#777" stroke="#3a3a3a" stroke-width="1"/>
<rect x="81.25" y="257.75" width="4.5" height="4.5" fill="#777" stroke="#3a3a3a" stroke-width="1"/>
<rect x="99.05" y="264.00" width="4.5" height="4.5" fill="#777" stroke="#3a3a3a" stroke-width="1"/>
<rect x="134.65" y="270.50" width="4.5" height="4.5" fill="#777" stroke="#3a3a3a" stroke-width="1"/>
<rect x="241.45" y="288.00" width="4.5" height="4.5" fill="#777" stroke="#3a3a3a" stroke-width="1"/>
<polyline fill="none" stroke="#222" stroke-width="1" points="65.7,244.0 83.5,271.8 101.3,281.2 136.9,296.5 243.7,301.6"/>
<circle cx="65.70" cy="244.00" r="2.6" fill="#000"/>
<circle cx="83.50" cy="271.75" r="2.6" fill="#000"/>
<circle cx="101.30" cy="281.25" r="2.6" fill="#000"/>
<circle cx="136.90" cy="296.50" r="2.6" fill="#000"/>
<circle cx="243.70" cy="301.60" r="2.6" fill="#000"/>
<rect x="63.80" y="242.10" width="3.8" height="3.8" fill="#000" stroke="#3a3a3a" stroke-width="1"/>
<clipPath id="ci0"><rect x="82.6" y="308.8" width="121.3" height="25.4"/></clipPath>
<clipPath id="ci1"><rect x="82.6" y="336.2" width="121.3" height="28.2"/></clipPath>
<g clip-path="url(#ci0)"><g filter="url(#wob)"><rect x="76.6" y="302.8" width="133.3" height="37.4" fill="#464646"/>
<rect x="85.4" y="311.8" width="26.2" height="25.4" fill="#000" fill-opacity="0.22" filter="url(#a1)"/>
<rect x="116.2" y="311.8" width="26.2" height="25.4" fill="#000" fill-opacity="0.22" filter="url(#a1)"/>
<rect x="177.3" y="311.8" width="25.3" height="25.4" fill="#000" fill-opacity="0.2" filter="url(#a1)"/>
<rect x="85.4" y="313.9" width="26.2" height="14.5" rx="4" fill="#000" fill-opacity="0.88" filter="url(#a2)"/>
<rect x="116.2" y="313.9" width="26.2" height="14.5" rx="4" fill="#000" fill-opacity="0.88" filter="url(#a2)"/>
<rect x="177.3" y="314.1" width="25.3" height="13.5" rx="4" fill="#000" fill-opacity="0.95" filter="url(#a2)"/>
<rect x="178.5" y="316.3" width="23.0" height="9.0" rx="3" fill="#000" fill-opacity="0.60" filter="url(#a1)"/>
<rect x="148" y="315" width="22" height="9" rx="3" fill="#fff" fill-opacity="0.10" filter="url(#a2)"/>
<rect x="150.0" y="322.0" width="19.0" height="3.0" rx="2.5" fill="#000" fill-opacity="0.20" filter="url(#a1)"/>
<ellipse cx="153.6" cy="329.8" rx="1.6" ry="0.9" fill="#000" fill-opacity="0.8" filter="url(#a0)"/>
<ellipse cx="141.5" cy="327.9" rx="1.8" ry="1.0" fill="#000" fill-opacity="0.6" filter="url(#a0)"/>
</g></g>
<g clip-path="url(#ci1)"><g filter="url(#wob)"><rect x="76.6" y="330.2" width="133.3" height="40.2" fill="#606060"/>
<rect x="85.4" y="338.7" width="26.2" height="28.2" fill="#000" fill-opacity="0.25" filter="url(#a0)"/>
<rect x="84.8" y="339.5" width="27.4" height="9.4" rx="3" fill="#000" fill-opacity="0.85" filter="url(#a1)"/>
<rect x="84.8" y="353.1" width="27.4" height="7.4" rx="3" fill="#000" fill-opacity="0.88" filter="url(#a1)"/>
<rect x="116.2" y="338.7" width="26.2" height="28.2" fill="#000" fill-opacity="0.25" filter="url(#a0)"/>
<rect x="115.6" y="339.5" width="27.4" height="9.4" rx="3" fill="#000" fill-opacity="0.85" filter="url(#a1)"/>
<rect x="115.6" y="353.1" width="27.4" height="7.4" rx="3" fill="#000" fill-opacity="0.88" filter="url(#a1)"/>
<rect x="147.0" y="338.7" width="24.4" height="28.2" fill="#000" fill-opacity="0.25" filter="url(#a0)"/>
<rect x="146.4" y="339.5" width="25.6" height="9.4" rx="3" fill="#000" fill-opacity="0.85" filter="url(#a1)"/>
<rect x="146.4" y="353.1" width="25.6" height="7.4" rx="3" fill="#000" fill-opacity="0.88" filter="url(#a1)"/>
<rect x="177.3" y="338.7" width="25.3" height="28.2" fill="#000" fill-opacity="0.25" filter="url(#a0)"/>
<rect x="176.7" y="339.5" width="26.5" height="9.4" rx="3" fill="#000" fill-opacity="0.85" filter="url(#a1)"/>
<rect x="176.7" y="353.1" width="26.5" height="7.4" rx="3" fill="#000" fill-opacity="0.88" filter="url(#a1)"/>
</g></g>
<text x="206.3" y="324.6" font-size="7.8" font-weight="bold" text-anchor="start" fill="#000" textLength="21.8" lengthAdjust="spacingAndGlyphs" stroke="#000" stroke-width="0.16">pFLT3</text>
<text x="207.2" y="353.8" font-size="8" font-weight="normal" text-anchor="start" fill="#000" textLength="16.6" lengthAdjust="spacingAndGlyphs" stroke="#000" stroke-width="0.05">FLT3</text>
<text x="87.5" y="371.7" font-size="6" font-weight="normal" text-anchor="start" fill="#000" textLength="19.2" lengthAdjust="spacingAndGlyphs" stroke="#000" stroke-width="0.12">Control</text>
<text x="112.5" y="371.7" font-size="6" font-weight="normal" text-anchor="start" fill="#000" textLength="28.8" lengthAdjust="spacingAndGlyphs" stroke="#000" stroke-width="0.12">Quizartinib</text>
<text x="144.79999999999998" y="371.7" font-size="6" font-weight="normal" text-anchor="start" fill="#000" textLength="29.8" lengthAdjust="spacingAndGlyphs" stroke="#000" stroke-width="0.12">Crenolanib</text>
<text x="178.4" y="371.7" font-size="6" font-weight="normal" text-anchor="start" fill="#000" textLength="26" lengthAdjust="spacingAndGlyphs" stroke="#000" stroke-width="0.12">Sorafenib</text>
<rect x="68.2" y="378.4" width="53" height="33.9" fill="#fff" stroke="#5a5a5a" stroke-width="1"/>
<line x1="71.2" x2="84.4" y1="384.5" y2="384.5" stroke="#222" stroke-width="1"/>
<rect x="75.85" y="382.65" width="3.7" height="3.7" fill="#777" stroke="#3a3a3a" stroke-width="1"/>
<text x="86.2" y="387.2" font-size="7.6" font-weight="normal" text-anchor="start" fill="#000" textLength="32.8" lengthAdjust="spacingAndGlyphs" stroke="#000" stroke-width="0.08">Quizartinib</text>
<line x1="71.2" x2="84.4" y1="396" y2="396" stroke="#222" stroke-width="1"/>
<path d="M77.70,393.80 L79.90,397.87 L75.50,397.87 Z" fill="#909090" stroke="#333" stroke-width="1"/>
<text x="86.2" y="398.7" font-size="7.6" font-weight="normal" text-anchor="start" fill="#000" textLength="30.2" lengthAdjust="spacingAndGlyphs" stroke="#000" stroke-width="0.08">Sorafenib</text>
<line x1="71.2" x2="84.4" y1="407.2" y2="407.2" stroke="#222" stroke-width="1"/>
<circle cx="77.70" cy="407.20" r="2.4" fill="#000"/>
<text x="86.2" y="409.9" font-size="7.6" font-weight="normal" text-anchor="start" fill="#000" textLength="33.3" lengthAdjust="spacingAndGlyphs" stroke="#000" stroke-width="0.08">Crenolanib</text>
</g>
<g id="panelD">
<rect x="300.5" y="225.4" width="218.20000000000005" height="217.70000000000002" fill="#fff" stroke="#505050" stroke-width="1.1"/>
<text x="285.3" y="238.5" font-size="16.2" font-weight="bold" text-anchor="start" fill="#000" stroke="#000" stroke-width="0.3">D</text>
<path d="M328.8,233.5 V417.4 H510" fill="none" stroke="#989898" stroke-width="1"/>
<text x="321.5" y="420.40000000000003" font-size="8.6" font-weight="normal" text-anchor="end" fill="#000" stroke="#000" stroke-width="0.16">0</text>
<line x1="326.3" x2="328.8" y1="417.3" y2="417.3" stroke="#989898"/>
<text x="321.5" y="383.66" font-size="8.6" font-weight="normal" text-anchor="end" fill="#000" stroke="#000" stroke-width="0.16">20</text>
<line x1="326.3" x2="328.8" y1="380.6" y2="380.6" stroke="#989898"/>
<text x="321.5" y="346.92" font-size="8.6" font-weight="normal" text-anchor="end" fill="#000" stroke="#000" stroke-width="0.16">40</text>
<line x1="326.3" x2="328.8" y1="343.8" y2="343.8" stroke="#989898"/>
<text x="321.5" y="310.18000000000006" font-size="8.6" font-weight="normal" text-anchor="end" fill="#000" stroke="#000" stroke-width="0.16">60</text>
<line x1="326.3" x2="328.8" y1="307.1" y2="307.1" stroke="#989898"/>
<text x="321.5" y="273.44000000000005" font-size="8.6" font-weight="normal" text-anchor="end" fill="#000" stroke="#000" stroke-width="0.16">80</text>
<line x1="326.3" x2="328.8" y1="270.3" y2="270.3" stroke="#989898"/>
<text x="321.5" y="236.70000000000002" font-size="8.6" font-weight="normal" text-anchor="end" fill="#000" stroke="#000" stroke-width="0.16">100</text>
<line x1="326.3" x2="328.8" y1="233.6" y2="233.6" stroke="#989898"/>
<text x="329.2" y="430.8" font-size="8.6" font-weight="normal" text-anchor="middle" fill="#000" stroke="#000" stroke-width="0.16">0</text>
<line x1="329.2" x2="329.2" y1="417.4" y2="420" stroke="#989898"/>
<text x="365.26" y="430.8" font-size="8.6" font-weight="normal" text-anchor="middle" fill="#000" stroke="#000" stroke-width="0.16">10</text>
<line x1="365.3" x2="365.3" y1="417.4" y2="420" stroke="#989898"/>
<text x="401.32" y="430.8" font-size="8.6" font-weight="normal" text-anchor="middle" fill="#000" stroke="#000" stroke-width="0.16">20</text>
<line x1="401.3" x2="401.3" y1="417.4" y2="420" stroke="#989898"/>
<text x="437.38" y="430.8" font-size="8.6" font-weight="normal" text-anchor="middle" fill="#000" stroke="#000" stroke-width="0.16">30</text>
<line x1="437.4" x2="437.4" y1="417.4" y2="420" stroke="#989898"/>
<text x="473.44" y="430.8" font-size="8.6" font-weight="normal" text-anchor="middle" fill="#000" stroke="#000" stroke-width="0.16">40</text>
<line x1="473.4" x2="473.4" y1="417.4" y2="420" stroke="#989898"/>
<text x="509.5" y="430.8" font-size="8.6" font-weight="normal" text-anchor="middle" fill="#000" stroke="#000" stroke-width="0.16">50</text>
<line x1="509.5" x2="509.5" y1="417.4" y2="420" stroke="#989898"/>
<text x="418.6" y="439.7" font-size="8.45" font-weight="bold" text-anchor="middle" fill="#000" stroke="#000" stroke-width="0.16">Drug Concentration (nM)</text>
<text transform="translate(308.7,321) rotate(-90)" font-size="8.55" font-weight="bold" text-anchor="middle" fill="#000" stroke="#000" stroke-width="0.2">% of Control</text>
<text x="385.4" y="238.0" font-size="11.5" font-weight="bold" text-anchor="start" fill="#000" textLength="46.5" lengthAdjust="spacingAndGlyphs" stroke="#000" stroke-width="0.16">Patient 5</text>
<polyline fill="none" stroke="#222" stroke-width="1" points="329.2,233.6 347.2,249.8 365.3,243.5 401.3,251.2 509.5,240.8"/>
<path d="M329.20,231.10 L331.70,235.72 L326.70,235.72 Z" fill="#909090" stroke="#333" stroke-width="1"/>
<path d="M347.23,247.30 L349.73,251.93 L344.73,251.93 Z" fill="#909090" stroke="#333" stroke-width="1"/>
<path d="M365.26,241.00 L367.76,245.62 L362.76,245.62 Z" fill="#909090" stroke="#333" stroke-width="1"/>
<path d="M401.32,248.75 L403.82,253.38 L398.82,253.38 Z" fill="#909090" stroke="#333" stroke-width="1"/>
<path d="M509.50,238.25 L512.00,242.88 L507.00,242.88 Z" fill="#909090" stroke="#333" stroke-width="1"/>
<polyline fill="none" stroke="#222" stroke-width="1" points="329.2,233.6 347.2,259.6 365.3,266.8 401.3,270.8 509.5,289.0"/>
<rect x="326.95" y="231.35" width="4.5" height="4.5" fill="#777" stroke="#3a3a3a" stroke-width="1"/>
<rect x="344.98" y="257.35" width="4.5" height="4.5" fill="#777" stroke="#3a3a3a" stroke-width="1"/>
<rect x="363.01" y="264.50" width="4.5" height="4.5" fill="#777" stroke="#3a3a3a" stroke-width="1"/>
<rect x="399.07" y="268.50" width="4.5" height="4.5" fill="#777" stroke="#3a3a3a" stroke-width="1"/>
<rect x="507.25" y="286.75" width="4.5" height="4.5" fill="#777" stroke="#3a3a3a" stroke-width="1"/>
<polyline fill="none" stroke="#222" stroke-width="1" points="329.2,233.6 347.2,307.5 365.3,321.2 401.3,338.5 509.5,363.2"/>
<circle cx="329.20" cy="233.60" r="2.6" fill="#000"/>
<circle cx="347.23" cy="307.50" r="2.6" fill="#000"/>
<circle cx="365.26" cy="321.25" r="2.6" fill="#000"/>
<circle cx="401.32" cy="338.50" r="2.6" fill="#000"/>
<circle cx="509.50" cy="363.20" r="2.6" fill="#000"/>
<rect x="327.30" y="231.70" width="3.8" height="3.8" fill="#000" stroke="#3a3a3a" stroke-width="1"/>
<rect x="332.5" y="378.8" width="53.5" height="35" fill="#fff" stroke="#5a5a5a" stroke-width="1"/>
<line x1="335" x2="348.3" y1="385" y2="385" stroke="#222" stroke-width="1"/>
<rect x="339.75" y="383.15" width="3.7" height="3.7" fill="#777" stroke="#3a3a3a" stroke-width="1"/>
<text x="349.8" y="387.7" font-size="7.6" font-weight="normal" text-anchor="start" fill="#000" textLength="33.1" lengthAdjust="spacingAndGlyphs" stroke="#000" stroke-width="0.08">Quizartinib</text>
<line x1="335" x2="348.3" y1="396.5" y2="396.5" stroke="#222" stroke-width="1"/>
<path d="M341.60,394.30 L343.80,398.37 L339.40,398.37 Z" fill="#909090" stroke="#333" stroke-width="1"/>
<text x="349.8" y="399.2" font-size="7.6" font-weight="normal" text-anchor="start" fill="#000" textLength="30.6" lengthAdjust="spacingAndGlyphs" stroke="#000" stroke-width="0.08">Sorafenib</text>
<line x1="335" x2="348.3" y1="408.1" y2="408.1" stroke="#222" stroke-width="1"/>
<circle cx="341.60" cy="408.10" r="2.4" fill="#000"/>
<text x="349.8" y="410.8" font-size="7.6" font-weight="normal" text-anchor="start" fill="#000" textLength="33.7" lengthAdjust="spacingAndGlyphs" stroke="#000" stroke-width="0.08">Crenolanib</text>
</g>
</g>
</svg>
</body></html>
